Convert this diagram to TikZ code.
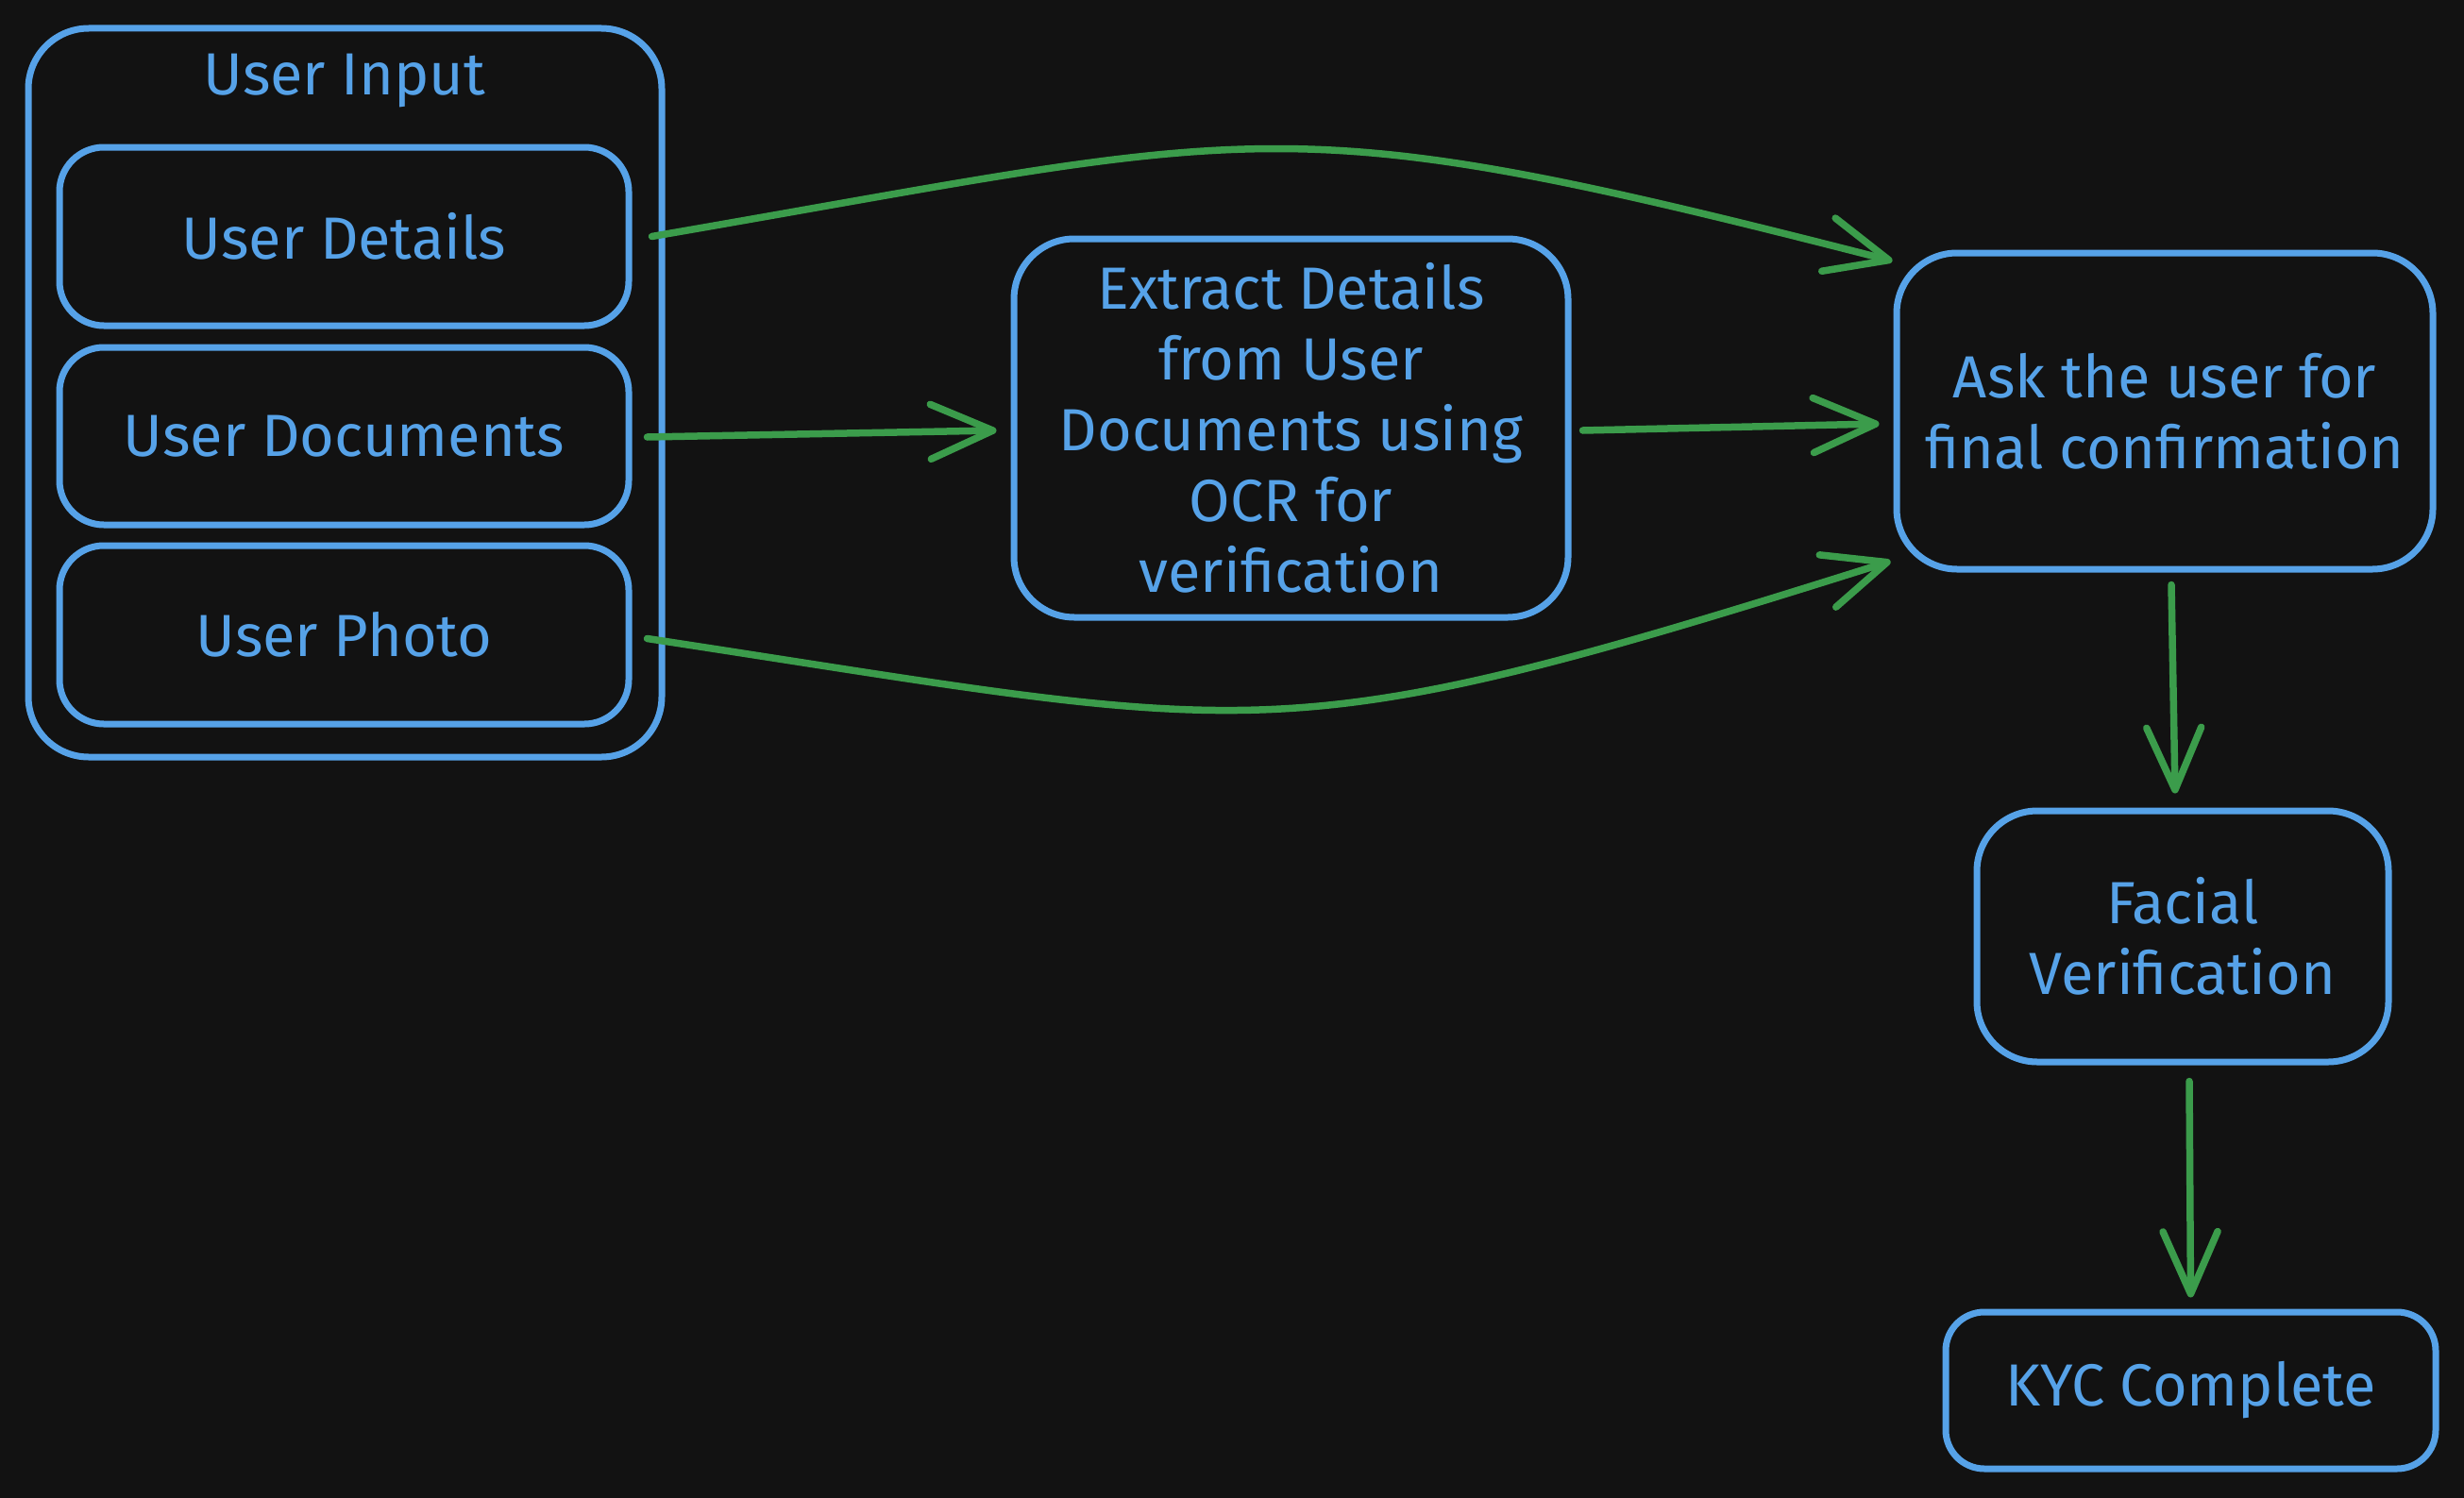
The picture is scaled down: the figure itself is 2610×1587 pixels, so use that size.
\documentclass[tikz,border=0pt]{standalone}
\usepackage{fontspec}
\setmainfont{Fira Sans}
\usetikzlibrary{arrows.meta,calc}
\definecolor{bg}{HTML}{121212}
\definecolor{bl}{HTML}{56A2E8}
\definecolor{gr}{HTML}{3B9C4B}
\tikzset{
  box/.style={draw=bl, line width=7pt, rounded corners=#1, inner sep=0pt, align=center, text=bl, font=\fontsize{63}{75}\selectfont},
  box/.default=60pt,
  txt/.style={text=bl, inner sep=0pt, align=center, font=\fontsize{63}{75}\selectfont},
  arr/.style={draw=gr, line width=7.5pt, line cap=round, -{Straight Barb[round, length=66pt, width=58pt]}}
}
\begin{document}
\begin{tikzpicture}[x=1pt,y=-1pt]
\fill[bg] (0,0) rectangle (2610,1587);
\useasboundingbox (0,0) rectangle (2610,1587);

\node[box=64pt, minimum width=671pt, minimum height=772pt] (outer) at (365.5,416) {};
\node[txt] (title) at (365,86) {User Input};
\node[box=47pt, minimum width=603pt, minimum height=189pt] (det) at (364.5,250.5) {User Details};
\node[box=47pt, minimum width=603pt, minimum height=188pt] (doc) at (364.5,462) {User Documents};
\node[box=47pt, minimum width=603pt, minimum height=189pt] (pho) at (364.5,672.5) {User Photo};

\node[box=64pt, minimum width=587pt, minimum height=401pt] (ext) at (1367.5,453.5)
  {Extract Details\\from User\\Documents using\\OCR for\\verification};
\node[box=64pt, minimum width=568pt, minimum height=335pt] (ask) at (2293,435.5)
  {Ask the user for\\final confirmation};
\node[box=64pt, minimum width=436pt, minimum height=266pt] (fac) at (2312,992)
  {Facial\\Verification};
\node[box=41pt, minimum width=519pt, minimum height=166pt] (kyc) at (2320.5,1473)
  {KYC Complete};

\draw[arr] ($(det.east)+(21,0)$) .. controls (1350,137) and (1348,108) .. ($(ask.north west)+(-1,12)$);
\draw[arr] ($(doc.east)+(16,1)$) -- ($(ext.west)+(-15,2.5)$);
\draw[arr] ($(ext.east)+(12,2.5)$) -- ($(ask.west)+(-15,13.5)$);
\draw[arr] ($(pho.east)+(16,4)$) .. controls (1346,777) and (1342,803) .. ($(ask.south west)+(-3,-12)$);
\draw[arr] ($(ask.south)+(7,13)$) -- ($(fac.north)+(-8,-15)$);
\draw[arr] ($(fac.south)+(7,17)$) -- ($(kyc.north)+(0,-12)$);
\end{tikzpicture}
\end{document}
